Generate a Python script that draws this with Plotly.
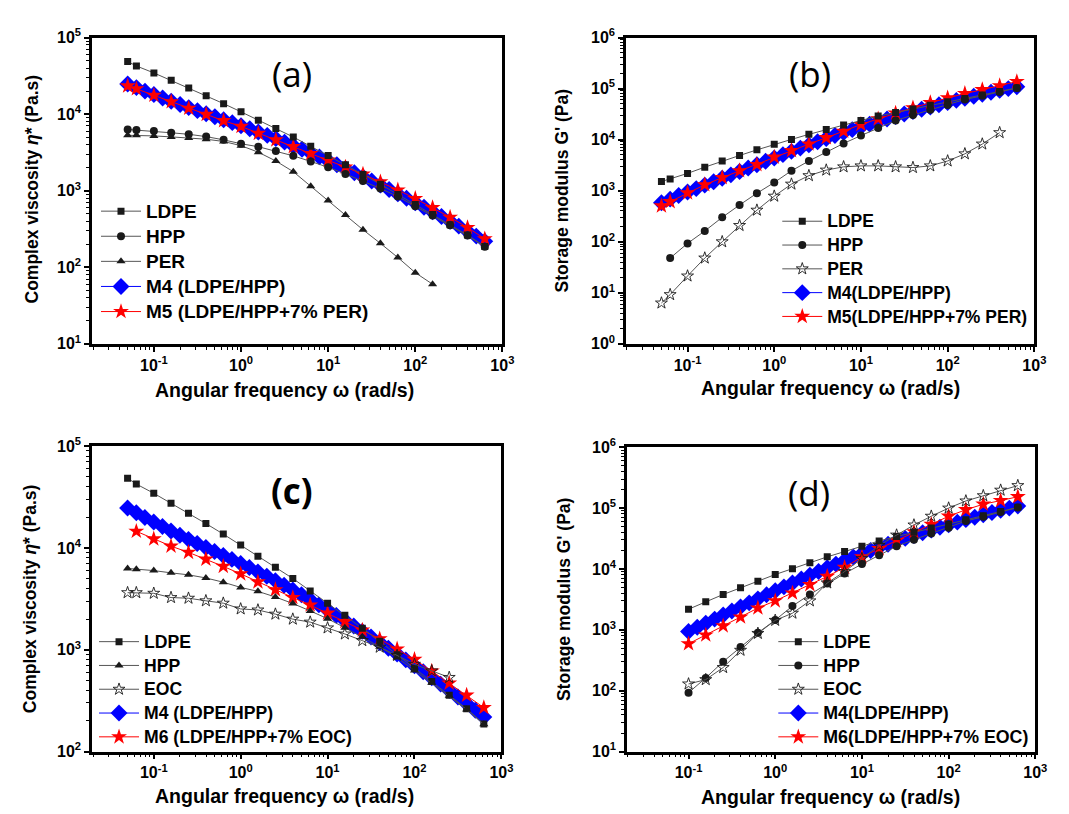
import plotly.graph_objects as go

W, H = 1069, 814

# ---------------- data ----------------
# angular frequencies (rad/s)
w5 = [0.05, 0.063, 0.1, 0.158, 0.251, 0.398, 0.631, 1, 1.58, 2.51, 3.98, 6.31,
      10, 15.8, 25.1, 39.8, 63.1, 100, 158, 251, 398, 628]
w10 = [0.05, 0.063, 0.079, 0.1, 0.126, 0.158, 0.2, 0.251, 0.316, 0.398, 0.501,
       0.631, 0.794, 1, 1.26, 1.58, 2, 2.51, 3.16, 3.98, 5.01, 6.31, 7.94, 10,
       12.6, 15.8, 20, 25.1, 31.6, 39.8, 50.1, 63.1, 79.4, 100, 126, 158, 200,
       251, 316, 398, 501, 628]

# complex viscosity (Pa.s)
eta_ldpe = [48600, 42500, 34500, 27600, 22000, 17400, 13700, 10700, 8320, 6470,
            5020, 3790, 2870, 2180, 1630, 1210, 893, 659, 488, 358, 263, 187]
eta_hpp = [6300, 6200, 6000, 5700, 5450, 5080, 4610, 4100, 3750, 3300, 2850,
           2410, 2020, 1650, 1340, 1070, 838, 625, 475, 354, 259, 185]
eta_per = [5290, 5290, 5190, 5040, 4890, 4700, 4390, 3870, 3180, 2440, 1770,
           1140, 745, 480, 309, 205, 134, 85, 60]
eta_m4 = [24700, 22200, 19950, 18000, 16250, 14700, 13360, 12160, 11090, 10120,
          9250, 8450, 7730, 7060, 6430, 5830, 5280, 4780, 4310, 3870, 3470,
          3100, 2760, 2455, 2180, 1940, 1715, 1515, 1335, 1180, 1035, 908, 796,
          697, 608, 530, 460, 399, 344, 296, 255, 218]
eta_m5 = [23300, 21400, 17600, 14500, 11900, 9900, 8200, 6900, 5600, 4600, 3750,
          3050, 2500, 2030, 1640, 1300, 1020, 790, 600, 450, 330, 235]
eta_m6 = [14600, 12270, 10430, 9060, 7760, 6600, 5570, 4640, 3890, 3260, 2750,
          2290, 1890, 1560, 1280, 1018, 804, 617, 470, 358, 270]
eta_eoc = [3640, 3640, 3590, 3260, 3210, 3030, 2870, 2520, 2460, 2240, 2000,
           1870, 1640, 1430, 1230, 1060, 880, 720, 621, 535]

# storage modulus G' (Pa)
g_ldpe = [1510, 1700, 2180, 2890, 3810, 4890, 6300, 8100, 10100, 12700, 15800,
          19300, 23700, 28900, 34000, 40000, 47000, 55000, 64000, 75000, 88000,
          103000]
g_hpp = [47.8, 92.7, 162, 300, 524, 891, 1446, 2455, 3815, 5750, 8430, 12000,
         16800, 23600, 30300, 38300, 47700, 61300, 72100, 85900, 102600]
g_per = [6.3, 9.2, 21.3, 47.9, 99.8, 208, 415, 780, 1343, 1968, 2530, 2930,
         3060, 3060, 2930, 2840, 3060, 3820, 5270, 8190, 13700]
g_m4 = [581, 682, 802, 940, 1099, 1285, 1500, 1750, 2042, 2382, 2773, 3228,
        3758, 4375, 5082, 5888, 6823, 7889, 9100, 10470, 12020, 13740, 15670,
        17780, 20090, 22650, 25410, 28440, 31770, 35400, 39360, 43650, 48310,
        53330, 58750, 64570, 70790, 77450, 84530, 92040, 100000, 108400]
g_m5 = [502, 608, 904, 1306, 1803, 2455, 3245, 4550, 6100, 8190, 10900, 14600,
        19800, 25500, 33100, 42000, 52900, 66000, 80000, 95200, 113700, 137400]
g_m6 = [589, 820, 1160, 1620, 2280, 2990, 4020, 5530, 7530, 10600, 15800, 21500,
        29200, 40700, 54000, 73500, 94000, 115800, 132700, 153800]
g_eoc = [129, 152, 240, 461, 873, 1430, 1875, 2990, 5890, 9060, 14800, 24300,
         36000, 52700, 73500, 100000, 131000, 159700, 196800, 234000]

panel_labels = ["(a)", "(b)", "(c)", "(d)"]
x_title = "Angular frequency ω (rad/s)"
y_title_eta = "Complex viscosity <i>η</i>* (Pa.s)"
y_title_g = "Storage modulus G' (Pa)"

# ---------------- figure ----------------
FONT = "Liberation Sans, Arial, sans-serif"
fig = go.Figure()

BLACK = "#1a1a1a"
LINEC = "#555555"
BLUE = "#0000FF"
RED = "#FF0000"

legend_text_px = {1: 19, 2: 17.5, 3: 17.6, 4: 17.8}


def add(x, y, name, symbol, size, panel, rank, color=BLACK, line_color=LINEC):
    sx = "" if panel == 1 else str(panel)
    mk = dict(symbol=symbol, size=size, color=color,
              line=dict(width=0.9 if symbol.endswith("open") else 0, color=color))
    label = '<span style="font-size:%spx">%s</span>' % (legend_text_px[panel], name)
    fig.add_trace(go.Scatter(
        x=x, y=y, name=label, mode="lines+markers",
        line=dict(color=line_color, width=1),
        marker=mk, xaxis="x" + sx, yaxis="y" + sx,
        legend="legend" + sx, legendrank=rank))


# panel (a)
add(w10, eta_m4, "M4 (LDPE/HPP)", "diamond", 13, 1, 4, BLUE, BLUE)
add(w5, eta_m5, "M5 (LDPE/HPP+7% PER)", "star", 12, 1, 5, RED, RED)
add(w5, eta_ldpe, "LDPE", "square", 7, 1, 1)
add(w5, eta_hpp, "HPP", "circle", 8, 1, 2)
add(w5[:len(eta_per)], eta_per, "PER", "triangle-up", 8, 1, 3)

# panel (b)
add(w10, g_m4, "M4(LDPE/HPP)", "diamond", 13, 2, 4, BLUE, BLUE)
add(w5, g_m5, "M5(LDPE/HPP+7% PER)", "star", 12, 2, 5, RED, RED)
add(w5, g_ldpe, "LDPE", "square", 7, 2, 1)
add(w5[1:], g_hpp, "HPP", "circle", 8, 2, 2)
add(w5[:len(g_per)], g_per, "PER", "star-open", 9, 2, 3)

# panel (c)
add(w10, eta_m4, "M4 (LDPE/HPP)", "diamond", 13, 3, 4, BLUE, BLUE)
add(w5[1:], eta_m6, "M6 (LDPE/HPP+7% EOC)", "star", 12, 3, 5, RED, RED)
add(w5, eta_ldpe, "LDPE", "square", 7, 3, 1)
add(w5, eta_hpp, "HPP", "triangle-up", 8, 3, 2)
add(w5[:len(eta_eoc)], eta_eoc, "EOC", "star-open", 9, 3, 3)

# panel (d)
add(w10[3:], g_m4[3:], "M4(LDPE/HPP)", "diamond", 13, 4, 4, BLUE, BLUE)
add(w5[2:], g_m6, "M6(LDPE/HPP+7% EOC)", "star", 12, 4, 5, RED, RED)
add(w5[2:], g_ldpe[2:], "LDPE", "square", 7, 4, 1)
add(w5[2:], g_hpp[1:], "HPP", "circle", 8, 4, 2)
add(w5[2:], g_eoc, "EOC", "star-open", 9, 4, 3)


def px_x(p):
    return p / W


def px_y(p):
    return 1 - p / H


frames = {
    1: (85, 500, 19, 333, (1, 5)),
    2: (625, 1038, 19, 333, (0, 6)),
    3: (85, 499, 438, 751, (2, 5)),
    4: (626, 1039, 439, 751, (1, 6)),
}

minor_vals = [m * 10 ** e for e in range(-2, 6) for m in range(2, 10)]

layout_axes = {}
for i, (l, r, t, b, yr) in frames.items():
    sx = "" if i == 1 else str(i)
    xt = [10 ** e for e in range(-1, 4)]
    xtt = ["<b>10<sup>%d</sup></b>" % e for e in range(-1, 4)]
    yt = [10 ** e for e in range(yr[0], yr[1] + 1)]
    ytt = ["<b>10<sup>%d</sup></b>" % e for e in range(yr[0], yr[1] + 1)]
    common = dict(type="log", showline=True, linewidth=2.5, linecolor="black",
                  mirror=True, ticks="outside", ticklen=5, tickwidth=1.5,
                  tickcolor="black", showgrid=False, zeroline=False,
                  tickmode="array",
                  tickfont=dict(family=FONT, size=16, color="black"),
                  minor=dict(ticks="outside", ticklen=3, tickwidth=1,
                             tickcolor="black", tickvals=minor_vals,
                             showgrid=False))
    layout_axes["xaxis" + sx] = dict(domain=[px_x(l), px_x(r)],
                                     anchor="y" + sx,
                                     range=[-1.71, 3.0], tickvals=xt,
                                     ticktext=xtt, **common)
    layout_axes["yaxis" + sx] = dict(domain=[px_y(b), px_y(t)],
                                     anchor="x" + sx,
                                     range=list(yr), tickvals=yt,
                                     ticktext=ytt, **common)

annotations = []
label_pos = [(287, 56), (811, 56), (287, 483), (810, 485)]
label_weight = ["normal", "normal", "bold", "normal"]
for (cx, cy), lab, wt in zip(label_pos, panel_labels, label_weight):
    annotations.append(dict(x=px_x(cx), y=px_y(cy), xref="paper", yref="paper",
                            text=lab, showarrow=False,
                            font=dict(family="Open Sans, sans-serif", size=35,
                                      color="black", weight=wt),
                            xanchor="center", yanchor="middle"))

xt_pos = [(280, 380), (832, 378), (280, 797), (832, 798)]
for cx, cy in xt_pos:
    annotations.append(dict(x=px_x(cx), y=px_y(cy), xref="paper", yref="paper",
                            text="<b>%s</b>" % x_title, showarrow=False,
                            font=dict(family=FONT, size=19.5, color="black"),
                            xanchor="center", yanchor="middle"))

yt_pos = [(24, 174, y_title_eta), (560, 176, y_title_g),
          (23, 594, y_title_eta), (563, 595, y_title_g)]
for cx, cy, txt in yt_pos:
    annotations.append(dict(x=px_x(cx), y=px_y(cy), xref="paper", yref="paper",
                            text="<b>%s</b>" % txt, showarrow=False, textangle=-90,
                            font=dict(family=FONT, size=17.5, color="black"),
                            xanchor="center", yanchor="middle"))


def leg(x, y, size):
    return dict(x=px_x(x), y=px_y(y), xref="paper", yref="paper",
                xanchor="left", yanchor="top",
                bgcolor="rgba(0,0,0,0)", borderwidth=0, itemwidth=40,
                font=dict(family=FONT, size=size, color="black", weight="bold"),
                tracegroupgap=0)


fig.update_layout(
    width=W, height=H,
    margin=dict(l=0, r=0, t=0, b=0),
    paper_bgcolor="white", plot_bgcolor="white",
    showlegend=True,
    legend=leg(89, 179, 17),
    legend2=leg(778, 190, 16),
    legend3=leg(87, 621, 16),
    legend4=leg(774, 621, 16),
    annotations=annotations,
    **layout_axes,
)

fig.write_html("out.html")
